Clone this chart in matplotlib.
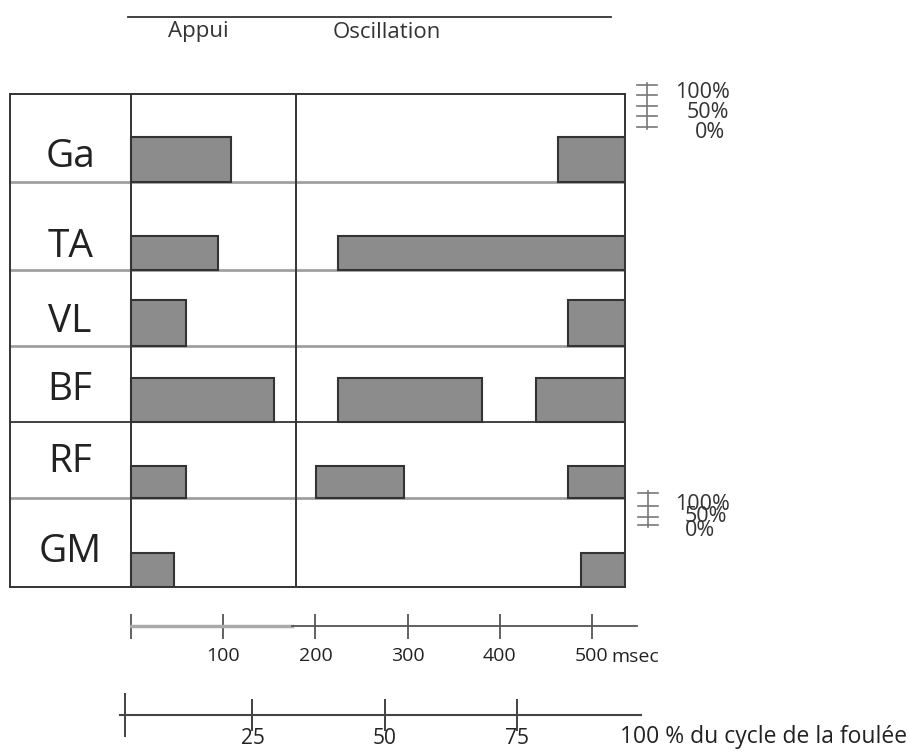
import matplotlib.pyplot as plt
from matplotlib.patches import Rectangle

plt.rcParams['font.family'] = ['Open Sans', 'DejaVu Sans']

# ==========================================
# Data
# ==========================================
muscles = ['Ga', 'TA', 'VL', 'BF', 'RF', 'GM']
row_heights = [88, 88, 76, 76, 76, 89]      # relative row heights
bar_heights = [45, 34, 46, 44, 32, 34]      # activity level, same units
# EMG bursts (start, end) in msec
bursts = [
    [(0, 108), (463, 536)],
    [(0, 94), (225, 536)],
    [(0, 60), (474, 536)],
    [(0, 155), (225, 381), (439, 536)],
    [(0, 60), (201, 296), (474, 536)],
    [(0, 47), (488, 536)],
]
stance_end = 179      # msec, end of "Appui"
cycle_end = 536       # msec
ms_ticks = [0, 100, 200, 300, 400, 500]
ms_labels = ['', '100', '200', '300', '400', '500']
ms_axis_end = 549
pct_ticks = [25, 50, 75]
pct_labels = ['25', '50', '75']
pct_axis_end = 98.3
phase_names = ['Appui', 'Oscillation']
phase_centres = [73, 277]   # msec
phase_span = (-3, 521)      # msec
scale_labels = ['100%', '50%', '0%']

# ==========================================
# Layout (pixels)
# ==========================================
W, H = 909, 752
MS0 = 131        # x pixel of 0 msec
PXMS = 0.922     # pixels per msec
box_left, box_top, box_bottom = 10, 94, 587
label_x = -66                     # msec, centre of muscle names
label_base = [73, 75, 62, 54, 50, 64]   # baseline offset inside each row
sep_colors = ['#a0a0a0', '#a0a0a0', '#a0a0a0', '#333333', '#a0a0a0']
dark = '#333333'


def px(ms):
    return MS0 + ms * PXMS


def ms(x):
    return (x - MS0) / PXMS


fig = plt.figure(figsize=(W / 100, H / 100), dpi=100)

# decoration layer in pixel coordinates
deco = fig.add_axes([0, 0, 1, 1])
deco.set_xlim(0, W)
deco.set_ylim(H, 0)
deco.axis('off')

# main chart
ax = fig.add_axes([box_left / W, 1 - box_bottom / H,
                   (px(cycle_end) - box_left) / W, (box_bottom - box_top) / H])
ax.set_xlim(ms(box_left), cycle_end)
total = sum(row_heights)
ax.set_ylim(total, 0)
ax.set_xticks([])
ax.set_yticks([])
for s in ax.spines.values():
    s.set_color(dark)
    s.set_linewidth(1.4)

tops = [sum(row_heights[:i]) for i in range(len(row_heights))]
for i, (name, top, h) in enumerate(zip(muscles, tops, row_heights)):
    bottom = top + h
    if i < len(muscles) - 1:
        lw = 1.3 if sep_colors[i] == dark else 2.0
        ax.axhline(bottom, color=sep_colors[i], lw=lw, zorder=1)
    for start, end in bursts[i]:
        ax.add_patch(Rectangle((start, bottom - bar_heights[i]), end - start,
                               bar_heights[i], facecolor='#8c8c8c',
                               edgecolor=dark, lw=1.5, zorder=3))
    ax.text(label_x, top + label_base[i], name, ha='center', va='baseline',
            fontsize=28, color='#222222')

ax.axvline(0, color=dark, lw=1.4, zorder=4)
ax.axvline(stance_end, color=dark, lw=1.4, zorder=4)

# phases on top
deco.plot([px(phase_span[0]), px(phase_span[1])], [17, 17], color=dark, lw=1.3)
for name, c in zip(phase_names, phase_centres):
    deco.text(px(c), 32, name, ha='center', va='center', fontsize=16,
              color='#333333')

# activity scale markers
for xv, ys, texts in [(647, [85, 95, 106, 116, 127],
                       [(730, 92), (729, 112), (725, 133)]),
                      (648, [493, 506, 517, 525],
                       [(730, 505), (727, 517), (715, 530)])]:
    deco.plot([xv, xv], [ys[0] - 2, ys[-1] + 2], color='#777777', lw=1.2)
    for yv in ys:
        deco.plot([xv - 10, xv + 10], [yv, yv], color='#777777', lw=1.2)
    for lab, (tx, ty) in zip(scale_labels, texts):
        deco.text(tx, ty, lab, ha='right', va='center', fontsize=15.5,
                  color='#333333')

# msec axis
ms_right = px(ms_axis_end) + 20
ax_ms = fig.add_axes([box_left / W, 1 - 626 / H, (ms_right - box_left) / W, 0.0001])
ax_ms.set_xlim(ms(box_left), ms(ms_right))
ax_ms.set_yticks([])
for k in ['top', 'left', 'right']:
    ax_ms.spines[k].set_visible(False)
ax_ms.spines['bottom'].set_bounds(175, ms_axis_end)
ax_ms.spines['bottom'].set_color('#555555')
ax_ms.spines['bottom'].set_linewidth(1.3)
ax_ms.plot([0, 175], [0, 0], color='#aaaaaa', lw=2.5, clip_on=False,
           transform=ax_ms.get_xaxis_transform())
ax_ms.set_xticks(ms_ticks, ms_labels)
ax_ms.tick_params(axis='x', direction='inout', length=18, width=1.3,
                  color='#555555', labelsize=14, labelcolor='#222222', pad=6)
ax_ms.patch.set_visible(False)
deco.text(611, 657, 'msec', ha='left', va='center', fontsize=14, color='#222222')

# percent of stride axis
P0, PXP = 120, 5.3
ax_pct = fig.add_axes([P0 / W, 1 - 715 / H, 100 * PXP / W, 0.0001])
ax_pct.set_xlim(0, 100)
ax_pct.set_yticks([])
for k in ['top', 'left', 'right']:
    ax_pct.spines[k].set_visible(False)
ax_pct.spines['bottom'].set_bounds(0, pct_axis_end)
ax_pct.spines['bottom'].set_color('#444444')
ax_pct.spines['bottom'].set_linewidth(1.5)
ax_pct.set_xticks(pct_ticks, pct_labels)
ax_pct.set_xticks([1], minor=True)
ax_pct.tick_params(axis='x', which='major', direction='inout', length=23,
                   width=1.3, color='#333333', labelsize=15,
                   labelcolor='#222222', pad=-2)
ax_pct.tick_params(axis='x', which='minor', direction='inout', length=32,
                   width=1.3, color='#333333')
ax_pct.patch.set_visible(False)
deco.text(620, 737, '100 % du cycle de la foulée', ha='left', va='center',
          fontsize=16.5, color='#222222')

fig.savefig('out.png', dpi=100)
